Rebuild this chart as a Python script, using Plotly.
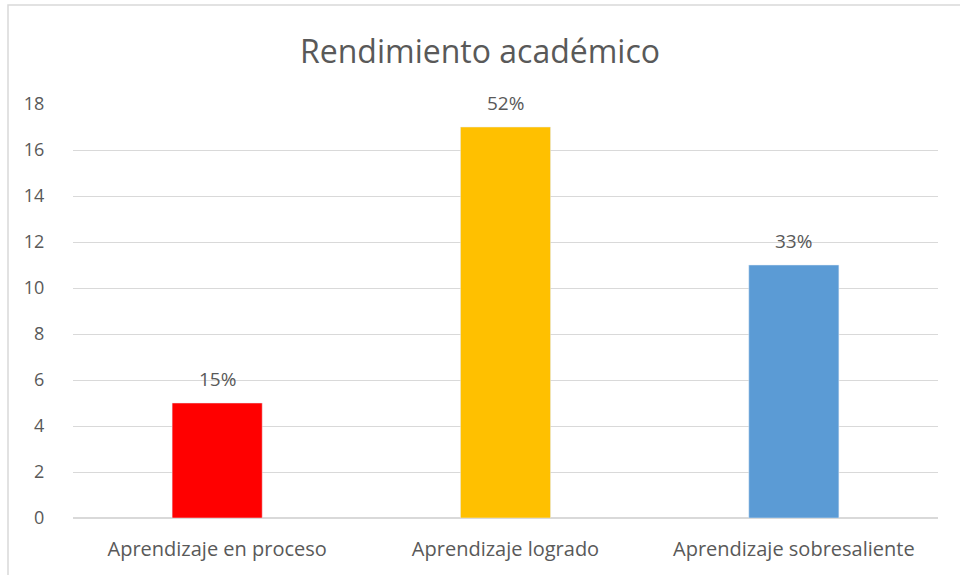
import plotly.graph_objects as go

categories = ["Aprendizaje en proceso", "Aprendizaje logrado", "Aprendizaje sobresaliente"]
values = [5, 17, 11]
labels = ["15%", "52%", "33%"]
colors = ["#FF0000", "#FFC000", "#5B9BD5"]
y_ticks = [0, 2, 4, 6, 8, 10, 12, 14, 16, 18]

FONT = "Open Sans"
GRAY = "#595959"

fig = go.Figure()
fig.add_trace(go.Bar(x=categories, y=values, marker_color=colors, width=0.3125,
                     hoverinfo="x+y"))

for c, v, t in zip(categories, values, labels):
    fig.add_annotation(x=c, y=v, text=t, showarrow=False, yshift=24,
                       yanchor="middle", font=dict(family=FONT, size=19, color=GRAY))

W, H = 960, 575
L, R, T, B = 73, 22, 104, 57
pw, ph = W - L - R, H - T - B

def px(x):
    return (x - L) / pw

def py(y):
    return (H - B - y) / ph

fig.add_shape(type="rect", xref="paper", yref="paper",
              x0=px(8), x1=px(975), y0=py(5), y1=py(590),
              line=dict(color="#D9D9D9", width=1.5), layer="below")

fig.update_layout(
    width=W, height=H,
    margin=dict(l=L, r=R, t=T, b=B),
    paper_bgcolor="white", plot_bgcolor="white",
    title=dict(text="Rendimiento académico", x=0.5, xanchor="center",
               y=1 - 52 / H, yanchor="middle",
               font=dict(family=FONT, size=32, color=GRAY)),
    showlegend=False,
    font=dict(family=FONT, color=GRAY),
    xaxis=dict(showgrid=False, showline=False, zeroline=False,
               ticks="outside", ticklen=13, tickcolor="rgba(0,0,0,0)",
               tickfont=dict(family=FONT, size=20, color=GRAY)),
    yaxis=dict(range=[0, 18], tickvals=y_ticks, showgrid=True, gridcolor="#D9D9D9",
               gridwidth=1, zeroline=True, zerolinecolor="#D9D9D9", zerolinewidth=1.5,
               showline=False, ticks="outside", ticklen=24, tickcolor="rgba(0,0,0,0)",
               tickfont=dict(family=FONT, size=18, color=GRAY)),
)

fig.write_html("out.html", config={"displayModeBar": False},
               post_script="document.body.style.margin='0';")
